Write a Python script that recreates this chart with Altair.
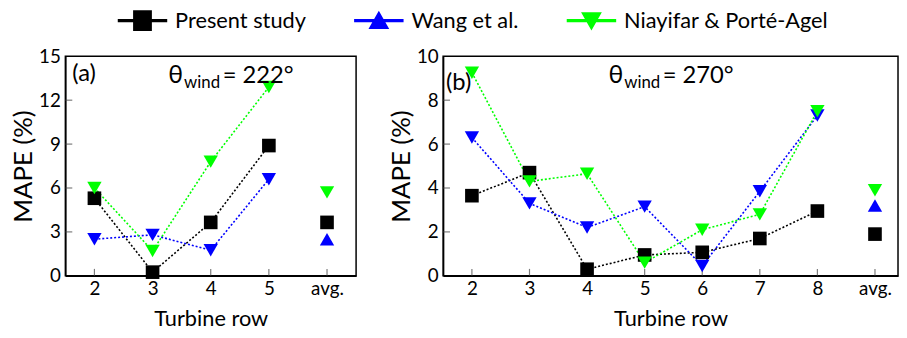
import json
import altair as alt
import pandas as pd

FONT = "Lato"

series = ["Present study", "Wang et al.", "Niayifar & Porté-Agel"]
colors = ["#000000", "#0000ff", "#00ff00"]

# Panel (a): theta_wind = 222 deg
rows_a = ["2", "3", "4", "5", "avg."]
present_a = [5.3, 0.25, 3.65, 8.9, 3.65]
wang_a = [2.5, 2.8, 1.75, 6.6, 2.5]
niayifar_a = [6.0, 1.7, 7.8, 12.9, 5.7]

# Panel (b): theta_wind = 270 deg
rows_b = ["2", "3", "4", "5", "6", "7", "8", "avg."]
present_b = [3.65, 4.7, 0.3, 0.95, 1.07, 1.7, 2.95, 1.9]
wang_b = [6.3, 3.3, 2.2, 3.15, 0.45, 3.85, 7.3, 3.2]
niayifar_b = [9.25, 4.3, 4.65, 0.6, 2.1, 2.8, 7.5, 3.9]

yticks_a = [0, 3, 6, 9, 12, 15]
yticks_b = [0, 2, 4, 6, 8, 10]

# marker used on the turbine rows / on the average point
row_marker = {"Present study": "square", "Wang et al.": "triangle-down",
              "Niayifar & Porté-Agel": "triangle-down"}
avg_marker = {"Present study": "square", "Wang et al.": "triangle-up",
              "Niayifar & Porté-Agel": "triangle-down"}
draw_order = ["Wang et al.", "Present study", "Niayifar & Porté-Agel"]

# legend symbols: a line with the marker on it
legend_paths = [
    "M-2.5,-0.17H2.5V0.17H-2.5Z M-0.95,-1.05H0.95V1.05H-0.95Z",
    "M-2.5,-0.17H2.5V0.17H-2.5Z M0,-1L1.05,0.85L-1.05,0.85Z",
    "M-2.5,-0.17H2.5V0.17H-2.5Z M-1.05,-0.85L1.05,-0.85L0,1Z",
]


def make_df(rows, vals):
    recs = []
    for s, c, v in zip(series, colors, vals):
        for i, (r, y) in enumerate(zip(rows, v)):
            is_avg = r == "avg."
            recs.append({"series": s, "hex": c, "pos": i, "row": r, "value": y,
                         "avg": is_avg,
                         "marker": avg_marker[s] if is_avg else row_marker[s]})
    return pd.DataFrame(recs)


def panel(rows, vals, yticks, xmax, w, tag, angle_txt, tag_pos, th_pos,
          with_legend=False):
    df = make_df(rows, vals)
    ymax = yticks[-1]
    xs = alt.Scale(domain=[-0.5, xmax], nice=False, zero=False)
    ys = alt.Scale(domain=[0, ymax], nice=False)
    label_expr = json.dumps(rows) + "[datum.value]"
    xaxis = alt.Axis(values=list(range(len(rows))), labelExpr=label_expr,
                     title="Turbine row", tickSize=0, grid=False,
                     labelPadding=4, titlePadding=10,
                     labelFontSize=19, titleFontSize=22)
    yaxis = alt.Axis(values=yticks, title="MAPE (%)", tickSize=0,
                     grid=False, labelPadding=5, titlePadding=2,
                     labelFontSize=19, titleFontSize=26)

    def X(field=None, datum=None):
        if datum is not None:
            return alt.X(datum=datum, scale=xs, axis=xaxis)
        return alt.X(field, type="quantitative", scale=xs, axis=xaxis)

    def Y(field=None, datum=None):
        if datum is not None:
            return alt.Y(datum=datum, scale=ys, axis=yaxis)
        return alt.Y(field, type="quantitative", scale=ys, axis=yaxis)

    col = alt.Color("hex:N", scale=None)
    base = alt.Chart(df)

    lines = base.transform_filter("!datum.avg").mark_line(
        strokeDash=[2, 2], strokeWidth=1.6
    ).encode(x=X("pos"), y=Y("value"), color=col, detail="series:N")

    xt = alt.Chart(pd.DataFrame({"pos": list(range(len(rows)))})).mark_tick(
        orient="vertical", size=7, thickness=1.2, color="#444", yOffset=-3.5
    ).encode(x=X("pos"), y=Y(datum=0))
    yt = alt.Chart(pd.DataFrame({"value": yticks[1:-1]})).mark_tick(
        orient="horizontal", size=7, thickness=1.2, color="#444", xOffset=3.5
    ).encode(y=Y("value"), x=X(datum=-0.5))

    layers = [lines, xt, yt]
    for s in draw_order:
        for mk in sorted(set([row_marker[s], avg_marker[s]])):
            size = 190 if mk == "square" else 210
            layers.append(
                base.transform_filter(
                    alt.FieldEqualPredicate(field="series", equal=s)
                ).transform_filter(
                    alt.FieldEqualPredicate(field="marker", equal=mk)
                ).mark_point(shape=mk, filled=True, size=size, opacity=1)
                .encode(x=X("pos"), y=Y("value"), color=col)
            )

    # panel label and wind-direction annotation
    tx, ty = tag_pos
    layers.append(alt.Chart().mark_text(
        text=tag, align="left", baseline="middle", fontSize=24, font=FONT
    ).encode(x=X(datum=tx), y=Y(datum=ty)))
    hx, hy = th_pos
    layers.append(alt.Chart().mark_text(
        text="θ", align="left", baseline="alphabetic", fontSize=25, font=FONT
    ).encode(x=X(datum=hx), y=Y(datum=hy)))
    layers.append(alt.Chart().mark_text(
        text="wind", align="left", baseline="alphabetic", fontSize=17, font=FONT,
        dx=16, dy=5
    ).encode(x=X(datum=hx), y=Y(datum=hy)))
    layers.append(alt.Chart().mark_text(
        text="= " + angle_txt, align="left", baseline="alphabetic", fontSize=24,
        font=FONT, dx=55
    ).encode(x=X(datum=hx), y=Y(datum=hy)))

    if with_legend:
        lg = alt.Legend(orient="none", legendX=67, legendY=-47,
                        direction="horizontal", title=None, symbolSize=400,
                        labelOffset=22, columnPadding=48, labelFontSize=22,
                        labelFont=FONT, labelColor="black", symbolStrokeWidth=0,
                        symbolOpacity=1, labelLimit=400)
        layers.append(
            base.mark_point(filled=True, size=1, opacity=0)
            .encode(x=X("pos"), y=Y("value"),
                    fill=alt.Fill("series:N",
                                  scale=alt.Scale(domain=series, range=colors),
                                  legend=lg),
                    shape=alt.Shape("series:N",
                                    scale=alt.Scale(domain=series, range=legend_paths),
                                    legend=lg))
        )

    return alt.layer(*layers).properties(width=w, height=222)


pa = panel(rows_a, [present_a, wang_a, niayifar_a], yticks_a, 4.5, 294, "(a)",
           "222°", (-0.38, 13.8), (1.27, 13.2), with_legend=True)
pb = panel(rows_b, [present_b, wang_b, niayifar_b], yticks_b, 7.4, 460, "(b)",
           "270°", (-0.45, 8.8), (2.37, 8.8))

chart = alt.hconcat(pa, pb, spacing=88, bounds="flush").properties(
    padding={"left": 2, "top": 0, "right": 0, "bottom": 0}
).configure(font=FONT).configure_view(
    stroke="black", strokeWidth=1.5
).configure_axis(
    domainColor="black", domainWidth=1.5, labelColor="black", titleColor="black",
    labelFont=FONT, titleFont=FONT, titleFontWeight="normal"
)

chart.save("out.html", embed_options={"renderer": "svg", "actions": False})
